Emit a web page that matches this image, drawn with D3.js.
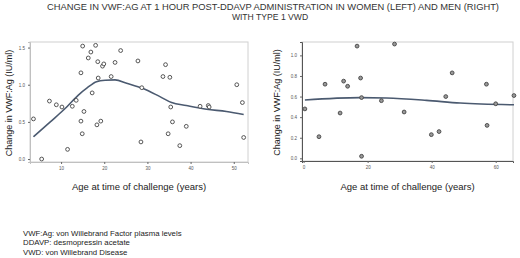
<!DOCTYPE html>
<html lang="en">
<head>
<meta charset="utf-8" />
<title>Change in VWF:Ag post-DDAVP</title>
<script src="https://cdnjs.cloudflare.com/ajax/libs/d3/7.8.5/d3.min.js"></script>
<style>
    body { margin: 0; background: #fff; }
    svg text { font-family: "Liberation Sans", Arial, sans-serif; }
</style>
</head>
<body>
<script>
    // Women (left panel): age (years) vs change in VWF:Ag (IU/ml)
    const womenAge = [3.6, 5.5, 7.3, 8.9, 10.2, 11.5, 12.6, 13.5, 14.6, 14.6, 15.0, 14.9, 15.3, 16.3, 16.9,
        17.2, 18.0, 18.3, 18.5, 18.6, 19.2, 19.6, 19.9, 21.6, 22.5, 23.8, 27.8, 28.5, 28.7, 33.6, 34.2,
        34.8, 35.2, 35.4, 35.8, 37.5, 39.0, 42.2, 44.1, 44.3, 50.7, 52.0, 52.3];
    const womenChange = [0.54, 0.0, 0.78, 0.73, 0.70, 0.13, 0.71, 0.79, 1.16, 0.51, 1.52, 0.34, 0.64, 1.36, 1.44,
        0.89, 1.53, 0.46, 1.31, 1.09, 0.51, 1.25, 1.28, 1.11, 1.30, 1.46, 1.32, 0.23, 0.96, 1.11, 1.27,
        0.34, 1.10, 0.70, 0.50, 0.18, 0.44, 0.71, 0.72, 0.70, 1.00, 0.76, 0.29];
    // Smoothed trend
    const womenFitAge = [3.6, 7.5, 11.3, 14.0, 16.1, 18.2, 20.2, 22.5, 25.2, 29.0, 32.9, 35.6, 39.0, 43.7, 48.3, 52.3];
    const womenFitChange = [0.30, 0.50, 0.70, 0.86, 0.96, 1.04, 1.06, 1.065, 1.02, 0.95, 0.84, 0.76, 0.72, 0.67, 0.64, 0.60];

    // Men (right panel)
    const menAge = [0.4, 4.8, 6.7, 11.4, 12.5, 13.75, 16.7, 17.8, 18.1, 18.1, 24.3, 28.4, 31.4, 39.9, 42.3,
        44.4, 46.4, 57.1, 57.3, 60.0, 65.7];
    const menChange = [0.48, 0.21, 0.72, 0.44, 0.75, 0.70, 1.09, 0.78, 0.59, 0.02, 0.56, 1.11, 0.45, 0.23, 0.26,
        0.60, 0.83, 0.72, 0.32, 0.53, 0.61];
    const menFitAge = [0.4, 17.6, 25.9, 38.4, 48.9, 65.7];
    const menFitChange = [0.567, 0.59, 0.586, 0.563, 0.537, 0.52];

    const womenXTicks = [10, 20, 30, 40, 50];
    const womenYTicks = [0.0, 0.5, 1.0, 1.5];
    const menXTicks = [0, 20, 40, 60];
    const menYTicks = [0.0, 0.2, 0.4, 0.6, 0.8, 1.0];

    const titleLines = ["CHANGE IN VWF:AG AT 1 HOUR POST-DDAVP ADMINISTRATION  IN WOMEN (LEFT) AND MEN (RIGHT)",
        "WITH TYPE 1 VWD"];
    const notes = ["VWF:Ag: von Willebrand Factor plasma levels", "DDAVP: desmopressin acetate",
        "VWD: von Willebrand Disease"];

    const svg = d3.select("body").append("svg")
        .attr("width", 520)
        .attr("height", 258);

    // Title
    svg.append("text")
        .attr("x", 273).attr("y", 10)
        .attr("text-anchor", "middle")
        .attr("font-size", 8.6)
        .attr("fill", "#333")
        .attr("textLength", 452)
        .attr("lengthAdjust", "spacingAndGlyphs")
        .text(titleLines[0]);
    svg.append("text")
        .attr("x", 270).attr("y", 20)
        .attr("text-anchor", "middle")
        .attr("font-size", 8.6)
        .attr("fill", "#333")
        .text(titleLines[1]);

    function panel(opts) {
        const x = d3.scaleLinear().domain(opts.xDomain).range([opts.left, opts.right]);
        const y = d3.scaleLinear().domain(opts.yDomain).range([opts.bottom, opts.top]);
        const g = svg.append("g");

        // frame
        g.append("rect")
            .attr("x", opts.left).attr("y", opts.top)
            .attr("width", opts.right - opts.left)
            .attr("height", opts.bottom - opts.top)
            .attr("fill", "none")
            .attr("stroke", "#d0d0d0")
            .attr("stroke-width", 1);

        const xAxis = g.append("g")
            .attr("transform", `translate(0,${opts.bottom})`)
            .call(d3.axisBottom(x).tickValues(opts.xTicks).tickSize(2).tickPadding(3).tickFormat(d3.format("d")));
        const yAxis = g.append("g")
            .attr("transform", `translate(${opts.left},0)`)
            .call(d3.axisLeft(y).tickValues(opts.yTicks).tickSize(2).tickPadding(3).tickFormat(d3.format(".1f")));

        [xAxis, yAxis].forEach(a => {
            a.select(".domain").attr("stroke", opts.axisColor).attr("stroke-width", 1);
            a.selectAll(".tick line").attr("stroke", "#666");
            a.selectAll(".tick text").attr("font-size", 4.5).attr("fill", "#555")
                .style("font-family", "'Liberation Sans', Arial, sans-serif");
        });

        // trend line
        const fit = opts.fitX.map((d, i) => [d, opts.fitY[i]]);
        g.append("path")
            .datum(fit)
            .attr("fill", "none")
            .attr("stroke", "#4b5a70")
            .attr("stroke-width", 1.6)
            .attr("d", d3.line().x(d => x(d[0])).y(d => y(d[1])).curve(d3.curveMonotoneX));

        // points
        const pts = opts.px.map((d, i) => [d, opts.py[i]]);
        g.selectAll("circle.pt")
            .data(pts)
            .join("circle")
            .attr("class", "pt")
            .attr("cx", d => x(d[0]))
            .attr("cy", d => y(d[1]))
            .attr("r", 1.9)
            .attr("fill", opts.pointFill)
            .attr("stroke", "#444")
            .attr("stroke-width", 0.9);

        // axis titles
        g.append("text")
            .attr("x", (opts.left + opts.right) / 2)
            .attr("y", 190)
            .attr("text-anchor", "middle")
            .attr("font-size", 9.5)
            .attr("fill", "#222")
            .text("Age at time of challenge (years)");
        g.append("text")
            .attr("transform", `translate(${opts.yTitleX},${(opts.top + opts.bottom) / 2 + 1}) rotate(-90)`)
            .attr("text-anchor", "middle")
            .attr("font-size", 9)
            .attr("fill", "#222")
            .text("Change in VWF:Ag  (IU/ml)");
    }

    panel({
        left: 30, right: 248, top: 42, bottom: 162,
        xDomain: [2.8, 53.3], yDomain: [-0.04, 1.575],
        xTicks: womenXTicks, yTicks: womenYTicks,
        px: womenAge, py: womenChange, fitX: womenFitAge, fitY: womenFitChange,
        pointFill: "#fff", axisColor: "#c0c0c0", yTitleX: 12
    });

    panel({
        left: 302, right: 513, top: 42, bottom: 161,
        xDomain: [-0.5, 65.4], yDomain: [-0.026, 1.13],
        xTicks: menXTicks, yTicks: menYTicks,
        px: menAge, py: menChange, fitX: menFitAge, fitY: menFitChange,
        pointFill: "#999", axisColor: "#555", yTitleX: 280
    });

    // Footnotes
    svg.append("g").selectAll("text")
        .data(notes)
        .join("text")
        .attr("x", 23)
        .attr("y", (d, i) => 236 + i * 9.3)
        .attr("font-size", 7.8)
        .attr("fill", "#222")
        .text(d => d);
</script>
</body>
</html>
